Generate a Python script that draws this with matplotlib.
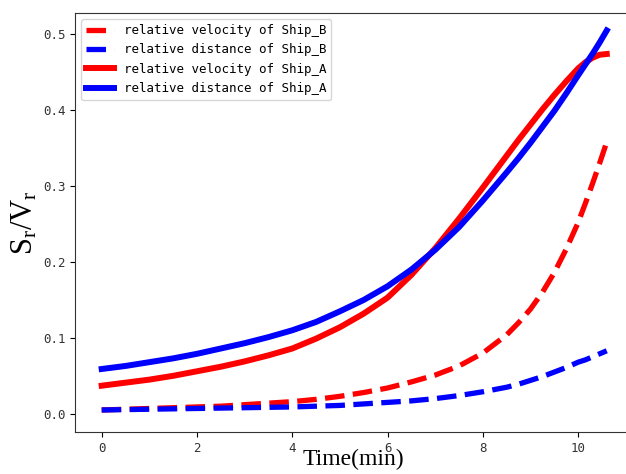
import matplotlib
matplotlib.use("Agg")
import matplotlib.pyplot as plt

# time axis (min)
t = [0, 0.5, 1, 1.5, 2, 2.5, 3, 3.5, 4, 4.5, 5, 5.5, 6, 6.5, 7, 7.5, 8,
     8.5, 8.75, 9, 9.25, 9.5, 9.75, 10, 10.15, 10.3, 10.45, 10.6]

vel_a = [.037, .041, .045, .050, .056, .062, .069, .077, .086, .099, .114, .132, .153, .183,
         .218, .257, .298, .340, .361, .381, .401, .420, .438, .455, .463, .469, .473, .474]
dist_a = [.059, .063, .068, .073, .079, .086, .093, .101, .110, .121, .135, .150, .168, .190,
          .216, .246, .281, .318, .337, .357, .378, .399, .422, .446, .460, .474, .489, .505]
vel_b = [.005, .006, .007, .008, .009, .010, .012, .014, .016, .019, .023, .028, .034, .042,
         .051, .063, .080, .104, .120, .138, .160, .186, .217, .252, .277, .303, .330, .358]
dist_b = [.005, .0055, .006, .0065, .007, .0075, .008, .0085, .009, .010, .011, .013, .015, .017,
          .020, .024, .029, .035, .039, .044, .049, .055, .061, .068, .071, .075, .079, .083]

fig = plt.figure(figsize=(6.26, 4.74), dpi=100)
ax = fig.add_axes([75 / 626, 42 / 474, 557 / 626, 419 / 474])

ax.plot(t, vel_b, color='red', ls='--', lw=3.8, label='relative velocity of Ship_B')
ax.plot(t, dist_b, color='blue', ls='--', lw=3.8, label='relative distance of Ship_B')
ax.plot(t, vel_a, color='red', lw=4.3, label='relative velocity of Ship_A')
ax.plot(t, dist_a, color='blue', lw=4.3, label='relative distance of Ship_A')

ax.set_xlim(-0.56, 11.13)
ax.set_ylim(-0.024, 0.528)
ax.set_xticks([0, 2, 4, 6, 8, 10])
ax.set_yticks([0.0, 0.1, 0.2, 0.3, 0.4, 0.5])
ax.set_yticklabels(['0.0', '0.1', '0.2', '0.3', '0.4', '0.5'])

for lab in ax.get_xticklabels() + ax.get_yticklabels():
    lab.set_fontfamily('DejaVu Sans Mono')
    lab.set_fontsize(9)
    lab.set_color('#333333')
for s in ax.spines.values():
    s.set_color('#333333')
ax.spines['right'].set_visible(False)  # cut off in the original

ax.set_xlabel('Time(min)', fontfamily='Liberation Serif', fontsize=17, labelpad=-4)
ax.set_ylabel(r'$\mathregular{S_r/V_r}$', fontfamily='Liberation Serif', fontsize=22, labelpad=2)

ax.legend(loc='upper left', prop={'family': 'DejaVu Sans Mono', 'size': 9}, handlelength=2.2)

fig.savefig('out.png', dpi=100)
